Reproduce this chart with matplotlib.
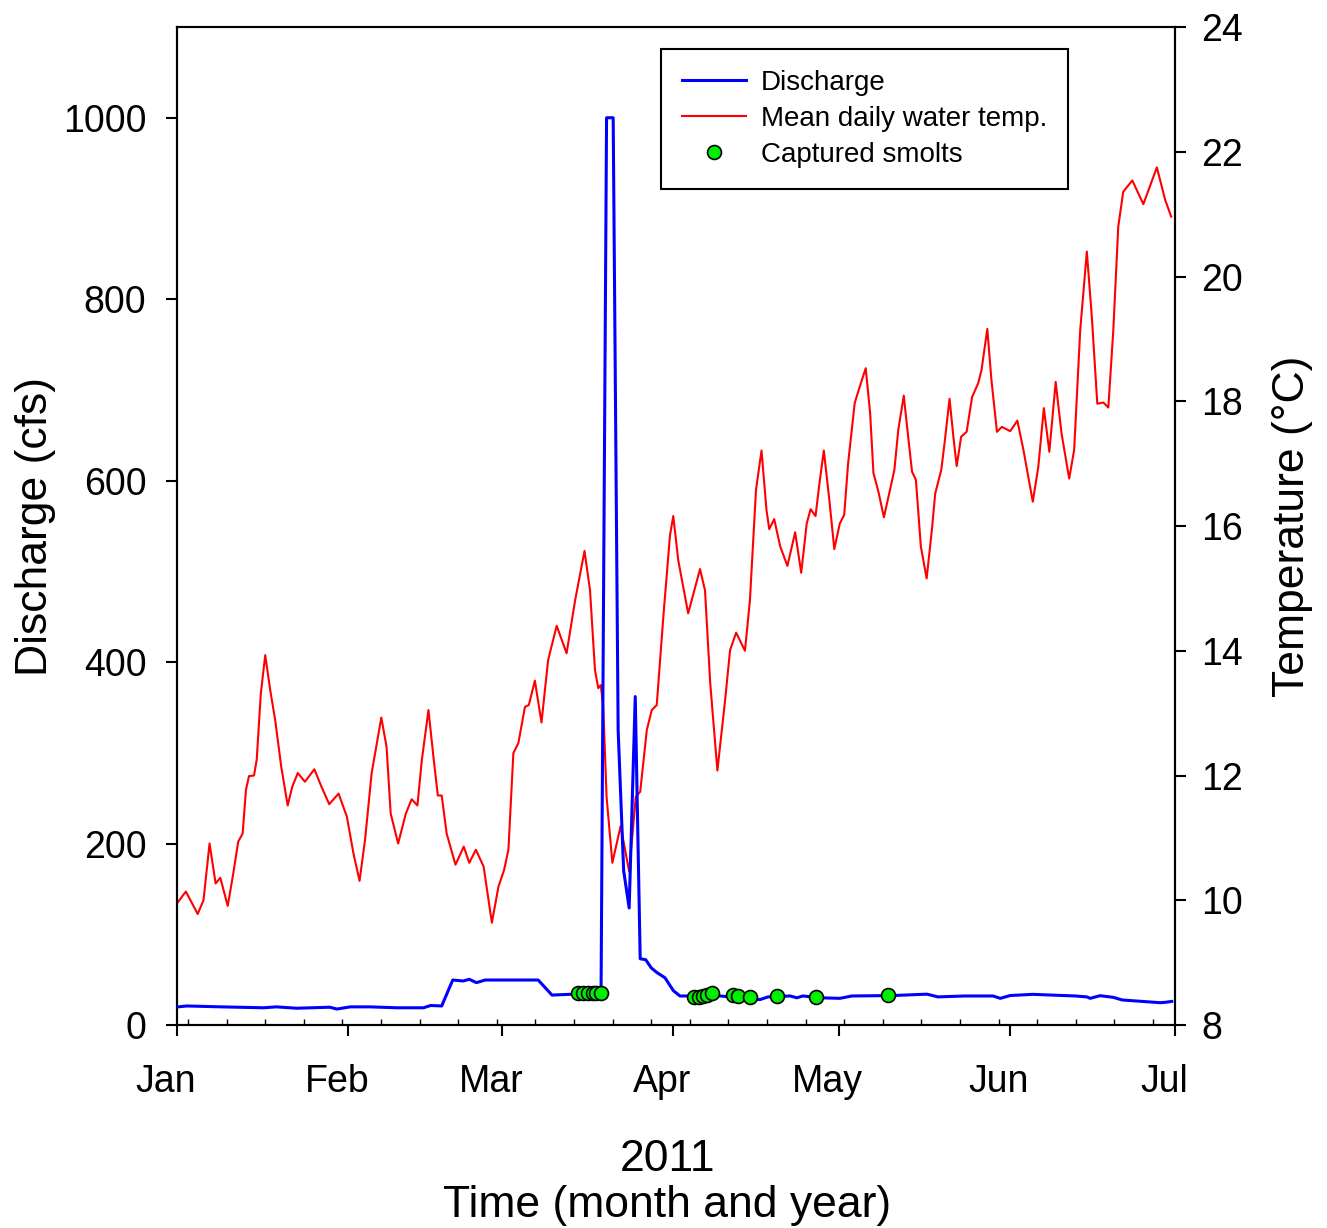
import numpy as np
import matplotlib
matplotlib.use("Agg")
import matplotlib.pyplot as plt
from matplotlib.transforms import ScaledTranslation

plt.rcParams['font.family'] = ['Liberation Sans', 'DejaVu Sans']

# days since 1 Jan 2011
temp_day = [0.0, 1.6, 3.75, 4.8, 5.9, 7.0, 7.85, 9.2, 10.2, 11.1, 11.9, 12.5, 13.05, 13.96, 14.45,
            15.2, 16.0, 16.9, 17.8, 18.9, 20.07, 20.9, 21.9, 23.2, 24.9, 26.2, 27.6, 29.3, 30.8,
            32.0, 33.1, 34.1, 35.3, 37.05, 38.0, 38.75, 40.1, 41.5, 42.55, 43.6, 44.4, 45.6, 46.5,
            47.3, 48.0, 48.9, 50.5, 52.0, 53.0, 54.2, 55.6, 57.1, 58.3, 59.3, 60.1, 61.0, 61.9,
            63.1, 63.8, 64.9, 66.1, 67.3, 68.85, 70.65, 72.2, 73.9, 74.9, 75.8, 76.4, 76.85, 77.3,
            77.9, 78.95, 80.45, 82.0, 83.2, 84.0, 85.2, 86.1, 87.0, 88.2, 89.4, 90.0, 90.9, 92.7,
            94.85, 95.75, 96.7, 98.0, 99.4, 100.3, 101.4, 103.0, 103.9, 105.0, 106.0, 106.9, 107.4,
            108.3, 109.4, 110.7, 112.1, 113.2, 114.2, 114.9, 115.8, 116.5, 117.3, 118.3, 119.2,
            120.2, 121.0, 121.7, 122.9, 123.8, 124.9, 125.7, 126.3, 127.2, 128.2, 129.3, 130.1,
            130.8, 131.8, 132.6, 133.3, 134.0, 134.9, 135.95, 136.9, 137.5, 138.6, 139.2, 140.1,
            140.8, 141.4, 142.2, 143.2, 144.2, 145.3, 145.9, 146.95, 147.7, 148.7, 149.6, 151.1,
            152.4, 153.5, 155.2, 156.2, 157.2, 158.2, 159.35, 160.4, 161.8, 162.7, 163.8, 165.0,
            165.9, 166.9, 168.0, 168.9, 169.8, 170.7, 171.6, 173.25, 175.25, 177.7, 179.2, 180.3]
temp_c = [9.95, 10.14, 9.78, 10.0, 10.91, 10.27, 10.36, 9.91, 10.43, 10.94, 11.07, 11.77, 11.99, 12.0, 12.25,
          13.32, 13.93, 13.37, 12.89, 12.14, 11.52, 11.82, 12.04, 11.9, 12.10, 11.82, 11.54, 11.71, 11.34,
          10.75, 10.31, 10.97, 12.04, 12.93, 12.46, 11.39, 10.91, 11.39, 11.62, 11.52, 12.25, 13.05, 12.30,
          11.68, 11.68, 11.07, 10.57, 10.86, 10.60, 10.81, 10.54, 9.64, 10.22, 10.48, 10.81, 12.36, 12.52,
          13.10, 13.13, 13.52, 12.85, 13.85, 14.40, 13.96, 14.81, 15.60, 14.97, 13.69, 13.40, 13.45, 13.10,
          11.66, 10.60, 11.19, 10.46, 11.66, 11.74, 12.73, 13.05, 13.13, 14.55, 15.85, 16.16, 15.45, 14.60,
          15.31, 14.97, 13.48, 12.08, 13.21, 14.01, 14.29, 14.0, 14.81, 16.58, 17.21, 16.26, 15.95,
          16.11, 15.67, 15.36, 15.90, 15.25, 16.04, 16.27, 16.16, 16.68, 17.21, 16.42, 15.63,
          16.04, 16.18, 17.0, 17.97, 18.23, 18.53, 17.81, 16.85, 16.55, 16.14, 16.58, 16.90,
          17.54, 18.09, 17.43, 16.87, 16.74, 15.67, 15.16, 15.94, 16.52, 16.90, 17.33, 18.04,
          17.43, 16.96, 17.43, 17.51, 18.07, 18.29, 18.50, 19.16, 18.34, 17.51, 17.59, 17.52,
          17.69, 17.22, 16.39, 16.95, 17.89, 17.19, 18.31, 17.49, 16.76, 17.22, 19.14, 20.40,
          19.36, 17.96, 17.98, 17.90, 19.14, 20.80, 21.36, 21.54, 21.16, 21.75, 21.23, 20.96]

flow_day = [0.2, 1.8, 8, 15.7, 18, 21.7, 27.7, 29, 31.4, 35, 39.8, 44.7, 46, 48, 50, 51.9, 53, 54.3,
            55.9, 62.2, 65.5, 68, 72, 76.9, 77.9, 79.1, 80, 81, 82, 83.1, 84, 85, 86, 87, 88.5,
            90, 91.2, 93, 98.5, 105.7, 107.2, 111.2, 112.4, 113.5, 116.6, 120.2, 122.4, 129.9,
            136, 138, 142.9, 148, 149.3, 151.1, 155.2, 162.9, 165, 165.6, 167.4, 169.8, 171.4,
            178.3, 179.2, 180.4]
flow_cfs = [20, 21, 20, 19, 20, 18.5, 19.6, 17.6, 20, 20, 19, 19, 21.5, 21, 49.6, 48.5, 50.4, 46.7,
            49.6, 49.6, 49.6, 33, 34, 35, 1000, 1000, 325, 170, 129, 362, 73, 72, 63, 58, 52,
            38, 32, 32, 32, 28, 31, 32, 30, 32, 30, 29.4, 32, 32.5,
            34, 31, 32, 32, 29.4, 32.5, 33.8, 32, 31, 29.4, 32.3, 30.5, 27.6,
            24.6, 25, 26]

smolt_day = [72.7, 73.6, 74.5, 75.4, 76.0, 76.9, 93.8, 94.7, 95.4, 96.2, 97.0, 100.9, 101.8,
             103.9, 108.9, 115.9, 129.0]
smolt_cfs = [35, 35, 35, 35, 35, 35, 31, 31, 32, 33, 35, 33, 32, 31, 32, 31, 33]

month_pos = [0, 31, 59, 90, 120, 151, 181]
month_lab = ['Jan', 'Feb', 'Mar', 'Apr', 'May', 'Jun', 'Jul']

fig = plt.figure(figsize=(13.27, 12.28), dpi=100)
ax = fig.add_axes([0.1334, 0.1653, 0.7521, 0.8127])
ax2 = ax.twinx()

l1, = ax.plot(flow_day, flow_cfs, color='#0000ff', lw=2.2, label='Discharge', zorder=3)
l2, = ax2.plot(temp_day, temp_c, color='#ff0000', lw=1.5, label='Mean daily water temp.')
l3, = ax.plot(smolt_day, smolt_cfs, 'o', color='#00ee00', mec='black', mew=1.2, ms=10,
              label='Captured smolts', zorder=4)
ax.set_zorder(ax2.get_zorder() + 1)
ax.patch.set_visible(False)

ax.set_xlim(0, 181)
ax.set_ylim(0, 1100)
ax2.set_ylim(8, 24)
ax.set_yticks([0, 200, 400, 600, 800, 1000])
ax2.set_yticks(range(8, 25, 2))
ax.set_xticks(month_pos)
ax.set_xticklabels(month_lab)
ax.set_xticks(np.arange(2, 181, 7), minor=True)

for a in (ax, ax2):
    for s in a.spines.values():
        s.set_linewidth(1.5)
ax.tick_params(axis='both', which='major', direction='out', length=8, width=1.5, labelsize=27, pad=14)
ax.tick_params(axis='x', which='major', pad=20)
ax.tick_params(axis='x', which='minor', direction='in', length=4, width=1)
ax2.tick_params(axis='y', direction='out', length=8, width=1.5, labelsize=27, pad=11)

# month labels sit a little left of their ticks
off = ScaledTranslation(-8 / 72, 0, fig.dpi_scale_trans)
for lab in ax.get_xticklabels():
    lab.set_transform(lab.get_transform() + off)

ax.set_ylabel('Discharge (cfs)', fontsize=32, labelpad=5)
ax2.set_ylabel('Temperature (°C)', fontsize=32, labelpad=21)
ax.set_xlabel('2011\nTime (month and year)', fontsize=32, linespacing=1.15, labelpad=28)
ax.xaxis.label.set_x(0.491)

leg = ax.legend(handles=[l1, l2, l3], loc='upper left', bbox_to_anchor=(0.485, 0.978),
                borderaxespad=0, fontsize=20, frameon=True, fancybox=False, edgecolor='black',
                framealpha=1, borderpad=0.75, labelspacing=0.36, handlelength=2.3,
                handletextpad=0.55)
leg.get_frame().set_linewidth(1.5)

fig.savefig('out.png', dpi=100)
